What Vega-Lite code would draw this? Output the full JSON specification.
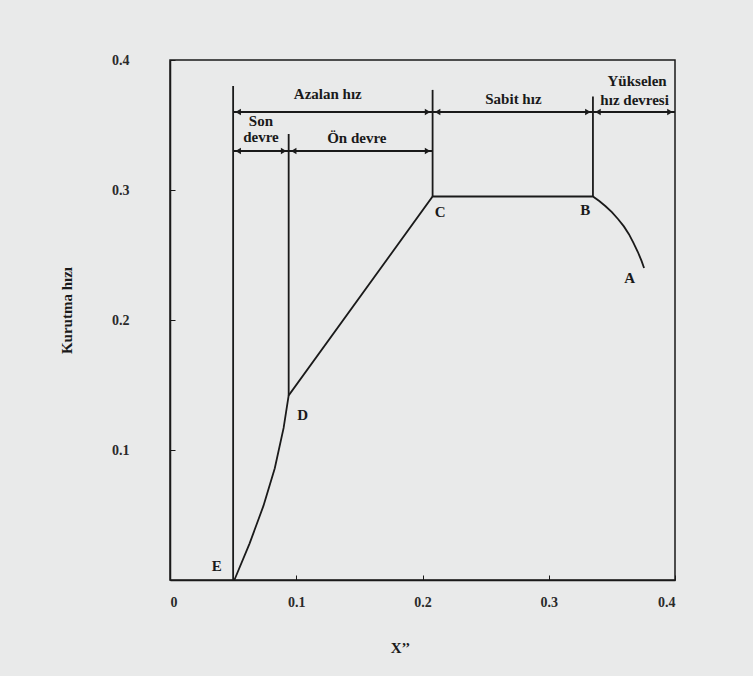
{
  "$schema": "https://vega.github.io/schema/vega-lite/v6.json",
  "width": 505,
  "height": 520,
  "autosize": "none",
  "padding": {"left": 170, "top": 60, "right": 78, "bottom": 96},
  "background": "#e9eaea",
  "config": {
    "view": {"stroke": "#1a1a1a", "strokeWidth": 1.5},
    "axis": {
      "grid": false,
      "domainColor": "#1a1a1a",
      "domainWidth": 1.5,
      "tickColor": "#1a1a1a",
      "tickSize": -5,
      "labelFont": "Liberation Serif",
      "labelFontWeight": "bold",
      "labelFontSize": 14,
      "labelColor": "#2a2a2a",
      "titleFont": "Liberation Serif",
      "titleFontWeight": "bold",
      "titleFontSize": 15,
      "titleColor": "#1a1a1a"
    }
  },
  "datasets": {
    "lines": [
      {"seg": "curve", "i": 0, "x": 0.051, "y": 0.0},
      {"seg": "curve", "i": 1, "x": 0.063, "y": 0.028},
      {"seg": "curve", "i": 2, "x": 0.074, "y": 0.057},
      {"seg": "curve", "i": 3, "x": 0.083, "y": 0.086},
      {"seg": "curve", "i": 4, "x": 0.09, "y": 0.117},
      {"seg": "curve", "i": 5, "x": 0.094, "y": 0.142},
      {"seg": "curve", "i": 6, "x": 0.208, "y": 0.295},
      {"seg": "curve", "i": 7, "x": 0.335, "y": 0.295},
      {"seg": "curve", "i": 8, "x": 0.34, "y": 0.2915},
      {"seg": "curve", "i": 9, "x": 0.345, "y": 0.2875},
      {"seg": "curve", "i": 10, "x": 0.35, "y": 0.283},
      {"seg": "curve", "i": 11, "x": 0.355, "y": 0.2775},
      {"seg": "curve", "i": 12, "x": 0.3595, "y": 0.272},
      {"seg": "curve", "i": 13, "x": 0.3635, "y": 0.266},
      {"seg": "curve", "i": 14, "x": 0.367, "y": 0.2595},
      {"seg": "curve", "i": 15, "x": 0.3705, "y": 0.2525},
      {"seg": "curve", "i": 16, "x": 0.3735, "y": 0.2455},
      {"seg": "curve", "i": 17, "x": 0.3755, "y": 0.24},
      {"seg": "vE", "i": 0, "x": 0.05, "y": 0.0},
      {"seg": "vE", "i": 1, "x": 0.05, "y": 0.38},
      {"seg": "vD", "i": 0, "x": 0.094, "y": 0.142},
      {"seg": "vD", "i": 1, "x": 0.094, "y": 0.343},
      {"seg": "vC", "i": 0, "x": 0.208, "y": 0.295},
      {"seg": "vC", "i": 1, "x": 0.208, "y": 0.377},
      {"seg": "vB", "i": 0, "x": 0.335, "y": 0.295},
      {"seg": "vB", "i": 1, "x": 0.335, "y": 0.372},
      {"seg": "hTop", "i": 0, "x": 0.05, "y": 0.36},
      {"seg": "hTop", "i": 1, "x": 0.4, "y": 0.36},
      {"seg": "hMid", "i": 0, "x": 0.05, "y": 0.33},
      {"seg": "hMid", "i": 1, "x": 0.208, "y": 0.33}
    ],
    "arrows": [
      {"x": 0.054, "y": 0.36, "dir": "L"},
      {"x": 0.204, "y": 0.36, "dir": "R"},
      {"x": 0.212, "y": 0.36, "dir": "L"},
      {"x": 0.331, "y": 0.36, "dir": "R"},
      {"x": 0.339, "y": 0.36, "dir": "L"},
      {"x": 0.396, "y": 0.36, "dir": "R"},
      {"x": 0.054, "y": 0.33, "dir": "L"},
      {"x": 0.09, "y": 0.33, "dir": "R"},
      {"x": 0.098, "y": 0.33, "dir": "L"},
      {"x": 0.204, "y": 0.33, "dir": "R"}
    ],
    "labels": [
      {"text": "Azalan hız", "x": 0.125, "y": 0.374},
      {"text": "Sabit hız", "x": 0.272, "y": 0.37},
      {"text": "Yükselen", "x": 0.37, "y": 0.384},
      {"text": "hız devresi", "x": 0.368, "y": 0.369},
      {"text": "Son", "x": 0.072, "y": 0.353},
      {"text": "devre", "x": 0.072, "y": 0.341},
      {"text": "Ön devre", "x": 0.148, "y": 0.34},
      {"text": "C", "x": 0.214, "y": 0.283},
      {"text": "B", "x": 0.329, "y": 0.285},
      {"text": "A", "x": 0.364, "y": 0.232},
      {"text": "D", "x": 0.105, "y": 0.127},
      {"text": "E", "x": 0.037, "y": 0.011}
    ]
  },
  "layer": [
    {
      "data": {"name": "lines"},
      "mark": {"type": "line", "color": "#1a1a1a", "strokeWidth": 1.8},
      "encoding": {
        "x": {
          "field": "x", "type": "quantitative",
          "scale": {"domain": [0, 0.4], "nice": false, "zero": false},
          "axis": {"values": [0, 0.1, 0.2, 0.3, 0.4], "format": "~g", "labelPadding": 20, "title": "X’’", "titleX": 230, "titleY": 60}
        },
        "y": {
          "field": "y", "type": "quantitative",
          "scale": {"domain": [0, 0.4], "nice": false, "zero": false},
          "axis": {"values": [0.1, 0.2, 0.3, 0.4], "format": "~g", "labelPadding": 46, "title": "Kurutma hızı", "titleX": -96, "titleY": 250}
        },
        "detail": {"field": "seg"},
        "order": {"field": "i"}
      }
    },
    {
      "data": {"name": "arrows"},
      "mark": {"type": "point", "filled": true, "color": "#1a1a1a", "opacity": 1, "size": 40},
      "encoding": {
        "x": {"field": "x", "type": "quantitative"},
        "y": {"field": "y", "type": "quantitative"},
        "shape": {"field": "dir", "type": "nominal", "scale": {"domain": ["L", "R"], "range": ["triangle-left", "triangle-right"]}, "legend": null}
      }
    },
    {
      "data": {"name": "labels"},
      "mark": {"type": "text", "font": "Liberation Serif", "fontWeight": "bold", "fontSize": 15, "color": "#1a1a1a", "align": "center", "baseline": "middle"},
      "encoding": {
        "x": {"field": "x", "type": "quantitative"},
        "y": {"field": "y", "type": "quantitative"},
        "text": {"field": "text"}
      }
    }
  ]
}
